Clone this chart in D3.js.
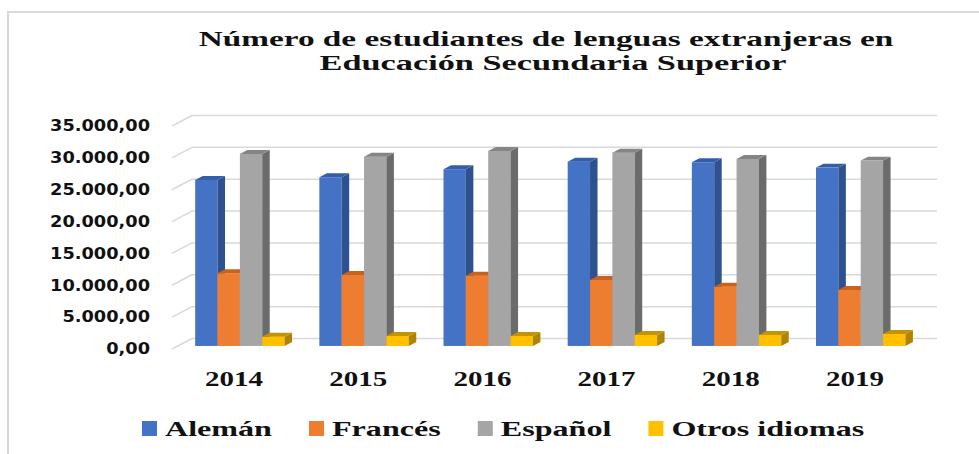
<!DOCTYPE html>
<html>
<head>
<meta charset="utf-8">
<script src="https://cdn.jsdelivr.net/npm/d3@7"></script>
<style>
body { margin: 0; background: #fff; }
svg { display: block; }
</style>
</head>
<body>
<div id="chart-area"></div>
<script>
// Datos
var years = ["2014", "2015", "2016", "2017", "2018", "2019"];
var series = ["Alemán", "Francés", "Español", "Otros idiomas"];
var aleman = [26050, 26480, 27740, 28930, 28830, 27990];
var frances = [11410, 11140, 11030, 10360, 9310, 8790];
var espanol = [30140, 29710, 30610, 30340, 29350, 29090];
var otros = [1460, 1570, 1570, 1730, 1730, 1880];
var yTicks = [0, 5000, 10000, 15000, 20000, 25000, 30000, 35000];
var titleLines = ["Número de estudiantes de lenguas extranjeras en", "Educación Secundaria Superior"];

var valuesBySeries = [aleman, frances, espanol, otros];
var colorFront = ["#4472C4", "#ED7D31", "#A5A5A5", "#FFC000"];
var colorSide = ["#2F528F", "#B65A1C", "#6B6B6B", "#AE8400"];
var colorTop = ["#345FA8", "#C8621F", "#858585", "#C49400"];

var width = 979;
var height = 454;

var svg = d3.select("#chart-area")
    .append("svg")
    .attr("width", width)
    .attr("height", height);

// Marco del grafico
svg.append("path")
    .attr("d", "M8," + height + " V12 H" + width)
    .attr("fill", "none")
    .attr("stroke", "#d9d9d9")
    .attr("stroke-width", 2);

// Profundidad 3D (desplazamiento de la pared del fondo)
var depth = {dx: 20, dy: -10.5};
var barStart = 0.29;   // posicion de la cara frontal de las barras
var barDepth = 0.375;  // grosor de la barra

// Escalas
var y = d3.scaleLinear().domain([0, 35000]).range([349, 126]);
var x0 = d3.scaleBand()
    .domain(years)
    .range([172, 917])
    .paddingInner(0.28)
    .paddingOuter(0.14);
var x1 = d3.scaleBand()
    .domain(series)
    .range([0, x0.bandwidth()]);

// Lineas de cuadricula
var grid = svg.append("g").attr("class", "grid");
grid.selectAll("line.back").data(yTicks).enter().append("line")
    .attr("class", "back")
    .attr("x1", x0.range()[0] + depth.dx)
    .attr("x2", x0.range()[1] + depth.dx)
    .attr("y1", (d) => y(d) + depth.dy)
    .attr("y2", (d) => y(d) + depth.dy)
    .attr("stroke", "#d9d9d9")
    .attr("stroke-width", 1.5);
grid.selectAll("line.side").data(yTicks).enter().append("line")
    .attr("class", "side")
    .attr("x1", x0.range()[0])
    .attr("x2", x0.range()[0] + depth.dx)
    .attr("y1", (d) => y(d))
    .attr("y2", (d) => y(d) + depth.dy)
    .attr("stroke", "#d9d9d9")
    .attr("stroke-width", 1.5);

// Eje Y
var fmt = d3.formatLocale({decimal: ",", thousands: ".", grouping: [3], currency: ["", ""]}).format(",.2f");
var leftAxis = d3.axisLeft(y).tickValues(yTicks).tickFormat(fmt).tickSize(0).tickPadding(0);
var gy = svg.append("g")
    .attr("class", "left axis")
    .attr("transform", "translate(150,0)")
    .call(leftAxis);
gy.select(".domain").remove();
gy.selectAll("text")
    .attr("font-family", "DejaVu Sans")
    .attr("font-weight", "bold")
    .attr("font-size", "15px")
    .attr("fill", "#111");
var yw = d3.max(gy.selectAll("text").nodes(), (n) => n.getComputedTextLength());
gy.selectAll("text").attr("transform", "scale(" + (100 / yw) + ",1)");

// Eje X
var bottomAxis = d3.axisBottom(x0).tickSize(0).tickPadding(0);
var gx = svg.append("g")
    .attr("class", "bottom axis")
    .attr("transform", "translate(0,370)")
    .call(bottomAxis);
gx.select(".domain").remove();
gx.selectAll("text")
    .attr("font-family", "Liberation Serif")
    .attr("font-weight", "bold")
    .attr("font-size", "22px")
    .attr("fill", "#111");
var xw = gx.select("text").node().getComputedTextLength();
gx.selectAll("text").attr("transform", "scale(" + (58 / xw) + ",1)");

// Barras 3D
var data = years.map((yr, i) => ({
    year: yr,
    values: series.map((s, j) => ({key: s, idx: j, value: valuesBySeries[j][i]}))
}));

var ox = barStart * depth.dx, oy = barStart * depth.dy;
var ddx = barDepth * depth.dx, ddy = barDepth * depth.dy;
var w = x1.bandwidth();
var base = y(0) + oy;

var groups = svg.selectAll("g.year").data(data).enter().append("g")
    .attr("class", "year")
    .attr("transform", (d) => "translate(" + x0(d.year) + ",0)");

var bars = groups.selectAll("g.bar").data((d) => d.values).enter().append("g")
    .attr("class", "bar");

bars.append("rect")
    .attr("x", (d) => x1(d.key) + ox)
    .attr("y", (d) => y(d.value) + oy)
    .attr("width", w)
    .attr("height", (d) => base - (y(d.value) + oy))
    .attr("fill", (d) => colorFront[d.idx]);

bars.append("path")
    .attr("d", (d) => {
        var bx = x1(d.key) + ox + w, t = y(d.value) + oy;
        return "M" + bx + "," + t + "L" + (bx + ddx) + "," + (t + ddy) +
            "L" + (bx + ddx) + "," + (base + ddy) + "L" + bx + "," + base + "Z";
    })
    .attr("fill", (d) => colorSide[d.idx]);

bars.append("path")
    .attr("d", (d) => {
        var bx = x1(d.key) + ox, t = y(d.value) + oy;
        return "M" + bx + "," + t + "L" + (bx + ddx) + "," + (t + ddy) +
            "L" + (bx + w + ddx) + "," + (t + ddy) + "L" + (bx + w) + "," + t + "Z";
    })
    .attr("fill", (d) => colorTop[d.idx]);

// Titulo
var titlePos = [[546, 46, 695], [553, 70, 467]];
var title = svg.append("g").attr("class", "title");
var tl = title.selectAll("text").data(titleLines).enter().append("text")
    .attr("text-anchor", "middle")
    .attr("font-family", "Liberation Serif")
    .attr("font-weight", "bold")
    .attr("font-size", "21px")
    .attr("fill", "#111")
    .text((d) => d);
tl.each(function(d, i) {
    var sx = titlePos[i][2] / this.getComputedTextLength();
    d3.select(this).attr("transform", "translate(" + titlePos[i][0] + "," + titlePos[i][1] + ") scale(" + sx + ",1)");
});

// Leyenda
var legend = svg.append("g").attr("class", "legend");
var lx = 142;
var lsx = null;
series.forEach((s, i) => {
    legend.append("rect")
        .attr("x", lx)
        .attr("y", 421)
        .attr("width", 15)
        .attr("height", 15)
        .attr("fill", colorFront[i]);
    var t = legend.append("text")
        .attr("font-family", "Liberation Serif")
        .attr("font-weight", "bold")
        .attr("font-size", "21px")
        .attr("fill", "#111")
        .text(s);
    var tw2 = t.node().getComputedTextLength();
    if (lsx === null) lsx = 107 / tw2;
    t.attr("transform", "translate(" + (lx + 23) + ",436) scale(" + lsx + ",1)");
    lx = lx + 23 + tw2 * lsx + 37;
});
</script>
</body>
</html>
